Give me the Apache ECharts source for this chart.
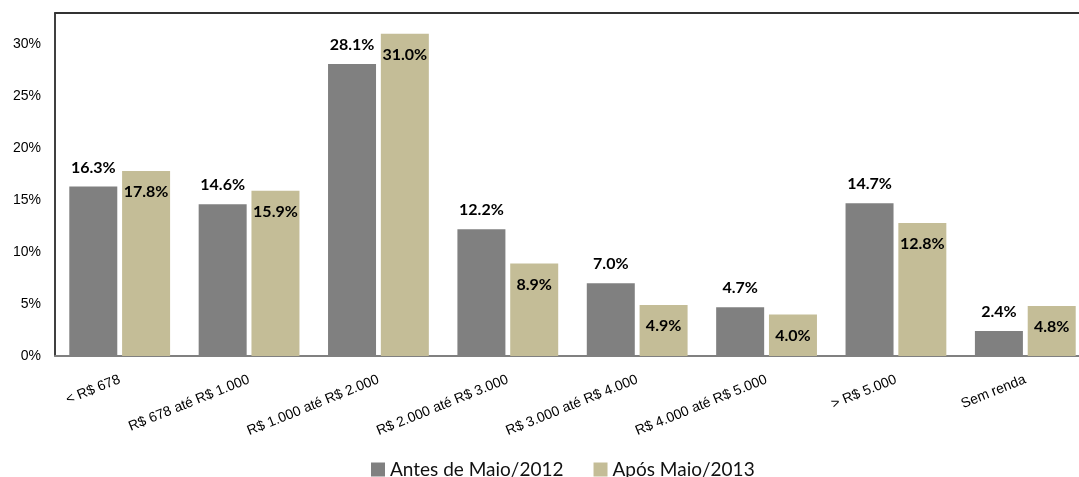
<!DOCTYPE html>
<html lang="pt">
<head>
  <meta charset="UTF-8">
  <title>Renda</title>
  <script src="https://cdn.jsdelivr.net/npm/echarts@6/dist/echarts.min.js"></script>
  <style>
    body { margin: 0; background: #ffffff; }
    #main { width: 1079px; height: 477px; }
  </style>
</head>
<body>
  <div id="main"></div>
  <script>
    const categories = ['< R$ 678', 'R$ 678 até R$ 1.000', 'R$ 1.000 até R$ 2.000', 'R$ 2.000 até R$ 3.000',
      'R$ 3.000 até R$ 4.000', 'R$ 4.000 até R$ 5.000', '> R$ 5.000', 'Sem renda'];
    const antes = [16.3, 14.6, 28.1, 12.2, 7.0, 4.7, 14.7, 2.4];
    const apos = [17.8, 15.9, 31.0, 8.9, 4.9, 4.0, 12.8, 4.8];
    const seriesNames = ['Antes de Maio/2012', 'Após Maio/2013'];

    var chart = echarts.init(document.getElementById('main'));

    const labelFont = { fontFamily: 'Lato', fontWeight: 'bold', fontSize: 16, color: '#000' };

    chart.setOption({
      animation: false,
      // the plot runs a bit past the right edge, like the original
      grid: { left: 55, width: 1035, top: 13, bottom: 121, outerBoundsMode: 'none', containLabel: false },
      legend: {
        left: 366, top: 455,
        itemWidth: 14, itemHeight: 14, itemGap: 30,
        icon: 'rect',
        textStyle: { fontFamily: 'Lato', fontSize: 19, color: '#111' },
        data: seriesNames
      },
      xAxis: [{
        type: 'category',
        data: categories,
        axisLine: { lineStyle: { color: '#808080', width: 2 } },
        axisTick: { show: false },
        axisLabel: { rotate: 22, fontFamily: 'Liberation Sans', fontSize: 14, color: '#000', margin: 23, interval: 0 }
      }, {
        type: 'category',
        position: 'top',
        data: categories,
        axisLine: { lineStyle: { color: '#333', width: 2 } },
        axisTick: { show: false },
        axisLabel: { show: false }
      }],
      yAxis: {
        type: 'value',
        min: 0, max: 33, interval: 5,
        axisLine: { show: true, lineStyle: { color: '#000', width: 1.5 } },
        axisTick: { show: false },
        splitLine: { show: false },
        axisLabel: {
          fontFamily: 'Liberation Sans', fontSize: 14, color: '#000', margin: 14,
          formatter: v => (v % 5 === 0 ? v + '%' : '')
        }
      },
      series: [{
        name: seriesNames[0],
        type: 'bar',
        data: antes,
        barWidth: 48,
        barGap: '10%',
        itemStyle: { color: '#808080' },
        label: { show: true, position: 'top', distance: 11, formatter: p => p.value.toFixed(1) + '%', ...labelFont }
      }, {
        name: seriesNames[1],
        type: 'bar',
        data: apos,
        barWidth: 48,
        itemStyle: { color: '#C4BD97' },
        label: { show: true, position: 'insideTop', distance: 13, formatter: p => p.value.toFixed(1) + '%', ...labelFont }
      }]
    });
  </script>
</body>
</html>
